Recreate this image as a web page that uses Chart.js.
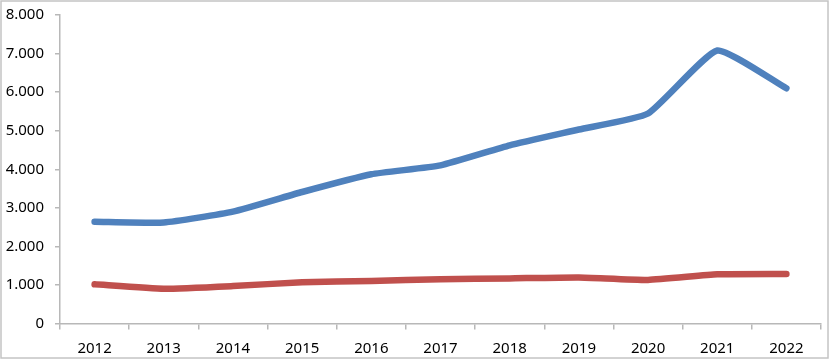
<!DOCTYPE html>
<html>
<head>
<meta charset="utf-8">
<script src="https://cdn.jsdelivr.net/npm/chart.js@4.4.1/dist/chart.umd.min.js"></script>
<style>
html,body{margin:0;padding:0;background:#fff;}
#wrap{width:830px;height:361px;position:relative;}
</style>
</head>
<body>
<div id="wrap"><canvas id="c" width="830" height="361"></canvas></div>
<script>
const categories = ['2012','2013','2014','2015','2016','2017','2018','2019','2020','2021','2022'];
const blueSeries = [2640, 2620, 2900, 3410, 3870, 4100, 4620, 5030, 5445, 7080, 6100];
const redSeries  = [1015, 900, 970, 1070, 1100, 1150, 1170, 1195, 1130, 1275, 1285];
const yTicks = [0, 1000, 2000, 3000, 4000, 5000, 6000, 7000, 8000];

const borderPlugin = {
  id: 'frame',
  afterDraw(chart) {
    const ctx = chart.ctx;
    ctx.save();
    ctx.strokeStyle = '#c4c4c4';
    ctx.lineWidth = 1.5;
    ctx.strokeRect(1, 1, 827, 357);
    ctx.restore();
  }
};

const fontFam = '"Noto Sans", "Open Sans", sans-serif';

new Chart(document.getElementById('c'), {
  type: 'line',
  data: {
    labels: categories,
    datasets: [
      { data: blueSeries, borderColor: '#4F81BD', borderWidth: 6.5, pointRadius: 0, tension: 0.15, borderCapStyle: 'round', borderJoinStyle: 'round', fill: false },
      { data: redSeries, borderColor: '#C0504D', borderWidth: 6.5, pointRadius: 0, tension: 0.15, borderCapStyle: 'round', borderJoinStyle: 'round', fill: false }
    ]
  },
  options: {
    responsive: false,
    animation: false,
    devicePixelRatio: 1,
    layout: { padding: { left: 4, right: 9, top: 15, bottom: 0 } },
    plugins: { legend: { display: false }, tooltip: { enabled: false } },
    scales: {
      x: {
        type: 'category',
        offset: true,
        border: { display: true, color: '#b8b8b8', width: 1.5 },
        grid: { display: true, offset: true, drawOnChartArea: false, drawTicks: true, tickLength: 6, color: '#b8b8b8', lineWidth: 1.5 },
        ticks: { color: '#000', font: { family: fontFam, size: 15 }, padding: 10, maxRotation: 0, autoSkip: false },
        afterFit(scale) { scale.height = 37.5; scale.paddingLeft = 0; scale.paddingRight = 0; }
      },
      y: {
        min: 0, max: 8000,
        afterBuildTicks(scale) { scale.ticks = yTicks.map(v => ({ value: v })); },
        border: { display: true, color: '#b8b8b8', width: 1.5 },
        grid: { display: true, drawOnChartArea: false, drawTicks: true, tickLength: 5, color: '#b8b8b8', lineWidth: 1.5 },
        ticks: {
          color: '#000', font: { family: fontFam, size: 15 }, padding: 11,
          callback(v) { return v === 0 ? '0' : (v / 1000).toFixed(3); }
        },
        afterFit(scale) { scale.width = 56; scale.paddingTop = 0; scale.paddingBottom = 0; }
      }
    }
  },
  plugins: [borderPlugin]
});
</script>
</body>
</html>
